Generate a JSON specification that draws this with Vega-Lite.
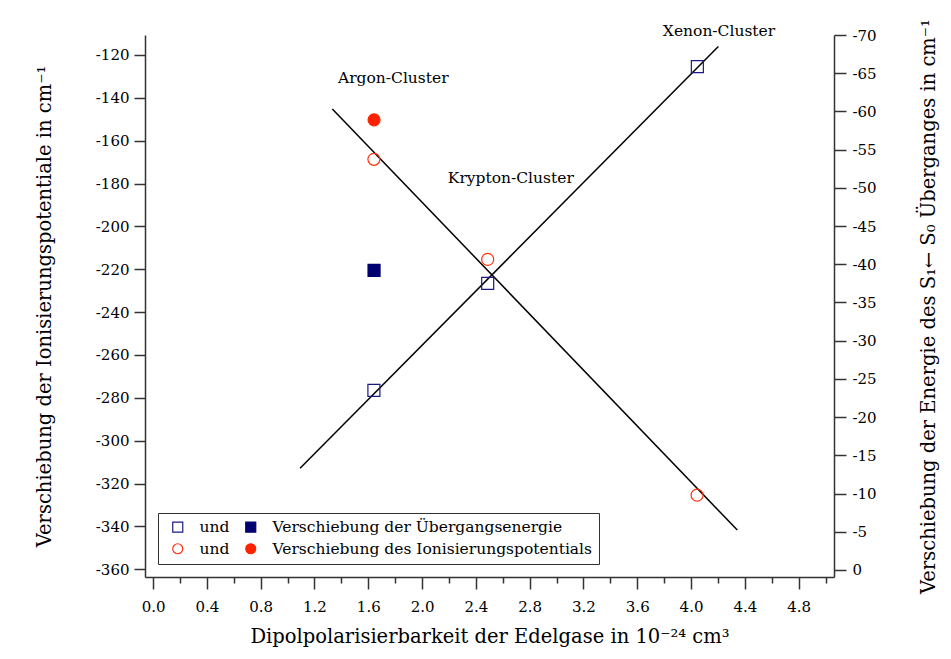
{
  "$schema": "https://vega.github.io/schema/vega-lite/v6.json",
  "autosize": {"type": "none"},
  "padding": {"left": 145, "top": 35, "right": 117, "bottom": 82},
  "width": 689,
  "height": 542,
  "background": "white",
  "datasets": {
    "ion": [
      {"alpha": 1.642, "shift": -168.7, "serie": "Ionisierung, offen"},
      {"alpha": 2.488, "shift": -215.4, "serie": "Ionisierung, offen"},
      {"alpha": 4.045, "shift": -325.4, "serie": "Ionisierung, offen"},
      {"alpha": 1.643, "shift": -150.3, "serie": "Ionisierung, gefüllt"}
    ],
    "ueb": [
      {"alpha": 1.642, "shift": -23.5, "serie": "Übergang, offen"},
      {"alpha": 2.488, "shift": -37.5, "serie": "Übergang, offen"},
      {"alpha": 4.047, "shift": -65.85, "serie": "Übergang, offen"},
      {"alpha": 1.643, "shift": -39.2, "serie": "Übergang, gefüllt"}
    ],
    "ion_fit": [
      {"alpha": 1.333, "shift": -145.2},
      {"alpha": 4.344, "shift": -341.7}
    ],
    "ueb_fit": [
      {"alpha": 1.093, "shift": -13.3},
      {"alpha": 4.203, "shift": -68.5}
    ],
    "labels": [
      {"alpha": 1.786, "shift": -130.9, "label": "Argon-Cluster"},
      {"alpha": 2.66, "shift": -177.4, "label": "Krypton-Cluster"},
      {"alpha": 4.208, "shift": -108.8, "label": "Xenon-Cluster"}
    ]
  },
  "encoding": {
    "x": {
      "field": "alpha",
      "type": "quantitative",
      "scale": {"domain": [-0.06, 5.063], "nice": false, "zero": false},
      "axis": {
        "orient": "bottom",
        "title": "Dipolpolarisierbarkeit der Edelgase in 10⁻²⁴ cm³",
        "values": [0, 0.2, 0.4, 0.6, 0.8, 1.0, 1.2, 1.4, 1.6, 1.8, 2.0, 2.2, 2.4, 2.6, 2.8, 3.0, 3.2, 3.4, 3.6, 3.8, 4.0, 4.2, 4.4, 4.6, 4.8, 5.0],
        "labelExpr": "round(datum.value*5) % 2 == 0 ? format(datum.value, '.1f') : ''",
        "tickSize": {"condition": {"test": "round(datum.value*5) % 2 == 0", "value": 12}, "value": 6},
        "labelPadding": 10,
        "titlePadding": 13,
        "grid": false
      }
    }
  },
  "layer": [
    {
      "encoding": {
        "y": {
          "field": "shift",
          "type": "quantitative",
          "scale": {"domain": [-363.6, -110.7], "nice": false, "zero": false},
          "axis": {
            "orient": "left",
            "title": "Verschiebung der Ionisierungspotentiale in cm⁻¹",
            "values": [-360, -340, -320, -300, -280, -260, -240, -220, -200, -180, -160, -140, -120],
            "labelExpr": "datum.value + ''",
            "tickSize": 11,
            "labelPadding": 5,
            "titlePadding": 41,
            "grid": false
          }
        }
      },
      "layer": [
        {
          "data": {"name": "ion_fit"},
          "mark": {"type": "line", "color": "black", "strokeWidth": 1.5}
        },
        {
          "data": {"name": "labels"},
          "mark": {"type": "text", "font": "DejaVu Serif", "fontSize": 15.5, "color": "black"},
          "encoding": {"text": {"field": "label", "type": "nominal"}}
        },
        {
          "data": {"name": "ion"},
          "mark": {"type": "point", "size": 144, "strokeWidth": 1.2, "opacity": 1},
          "encoding": {
            "stroke": {"field": "serie", "type": "nominal", "title": null,
              "scale": {"domain": ["Übergang, offen", "Ionisierung, offen", "Übergang, gefüllt", "Ionisierung, gefüllt"], "range": ["#1a1a85", "#ff3311", "#000070", "#ff2200"]},
              "legend": {"labelExpr": "indexof(datum.label, 'offen') >= 0 ? 'und' : (indexof(datum.label, 'Übergang') == 0 ? 'Verschiebung der Übergangsenergie' : 'Verschiebung des Ionisierungspotentials')"}},
            "fill": {"field": "serie", "type": "nominal", "title": null,
              "scale": {"domain": ["Übergang, offen", "Ionisierung, offen", "Übergang, gefüllt", "Ionisierung, gefüllt"], "range": ["transparent", "transparent", "#000070", "#ff2200"]},
              "legend": {"labelExpr": "indexof(datum.label, 'offen') >= 0 ? 'und' : (indexof(datum.label, 'Übergang') == 0 ? 'Verschiebung der Übergangsenergie' : 'Verschiebung des Ionisierungspotentials')"}},
            "shape": {"field": "serie", "type": "nominal", "title": null,
              "scale": {"domain": ["Übergang, offen", "Ionisierung, offen", "Übergang, gefüllt", "Ionisierung, gefüllt"], "range": ["square", "circle", "square", "circle"]},
              "legend": {"labelExpr": "indexof(datum.label, 'offen') >= 0 ? 'und' : (indexof(datum.label, 'Übergang') == 0 ? 'Verschiebung der Übergangsenergie' : 'Verschiebung des Ionisierungspotentials')"}}
          }
        }
      ]
    },
    {
      "encoding": {
        "y": {
          "field": "shift",
          "type": "quantitative",
          "scale": {"domain": [-70, 0.92], "nice": false, "zero": false, "reverse": true},
          "axis": {
            "orient": "right",
            "title": "Verschiebung der Energie des S₁← S₀ Überganges in cm⁻¹",
            "values": [0, -5, -10, -15, -20, -25, -30, -35, -40, -45, -50, -55, -60, -65, -70],
            "labelExpr": "datum.value + ''",
            "tickSize": 12,
            "labelPadding": 6,
            "titlePadding": 62,
            "titleAngle": 270,
            "grid": false
          }
        }
      },
      "layer": [
        {
          "data": {"name": "ueb_fit"},
          "mark": {"type": "line", "color": "black", "strokeWidth": 1.5}
        },
        {
          "data": {"name": "ueb"},
          "mark": {"type": "point", "size": 144, "strokeWidth": 1.2, "opacity": 1},
          "encoding": {
            "stroke": {"field": "serie", "type": "nominal", "title": null,
              "scale": {"domain": ["Übergang, offen", "Ionisierung, offen", "Übergang, gefüllt", "Ionisierung, gefüllt"], "range": ["#1a1a85", "#ff3311", "#000070", "#ff2200"]},
              "legend": {"labelExpr": "indexof(datum.label, 'offen') >= 0 ? 'und' : (indexof(datum.label, 'Übergang') == 0 ? 'Verschiebung der Übergangsenergie' : 'Verschiebung des Ionisierungspotentials')"}},
            "fill": {"field": "serie", "type": "nominal", "title": null,
              "scale": {"domain": ["Übergang, offen", "Ionisierung, offen", "Übergang, gefüllt", "Ionisierung, gefüllt"], "range": ["transparent", "transparent", "#000070", "#ff2200"]},
              "legend": {"labelExpr": "indexof(datum.label, 'offen') >= 0 ? 'und' : (indexof(datum.label, 'Übergang') == 0 ? 'Verschiebung der Übergangsenergie' : 'Verschiebung des Ionisierungspotentials')"}},
            "shape": {"field": "serie", "type": "nominal", "title": null,
              "scale": {"domain": ["Übergang, offen", "Ionisierung, offen", "Übergang, gefüllt", "Ionisierung, gefüllt"], "range": ["square", "circle", "square", "circle"]},
              "legend": {"labelExpr": "indexof(datum.label, 'offen') >= 0 ? 'und' : (indexof(datum.label, 'Übergang') == 0 ? 'Verschiebung der Übergangsenergie' : 'Verschiebung des Ionisierungspotentials')"}}
          }
        }
      ]
    }
  ],
  "resolve": {"scale": {"y": "independent"}},
  "config": {
    "view": {"stroke": null},
    "font": "DejaVu Serif",
    "axis": {
      "domainColor": "#333333",
      "domainWidth": 1.5,
      "tickColor": "#333333",
      "tickWidth": 1.5,
      "labelFont": "DejaVu Serif",
      "labelFontSize": 15,
      "labelColor": "black",
      "titleFont": "DejaVu Serif",
      "titleFontSize": 19.5,
      "titleFontWeight": "normal",
      "titleColor": "black"
    },
    "legend": {
      "orient": "bottom-left",
      "offset": 13,
      "columns": 2,
      "gridAlign": "each",
      "strokeColor": "#333333",
      "fillColor": "white",
      "padding": 6,
      "rowPadding": 5,
      "columnPadding": 7,
      "symbolSize": 100,
      "symbolStrokeWidth": 1.2,
      "symbolOffset": 6,
      "labelOffset": 14,
      "labelFont": "DejaVu Serif",
      "labelFontSize": 15.5,
      "labelColor": "black",
      "labelLimit": 600
    }
  }
}
